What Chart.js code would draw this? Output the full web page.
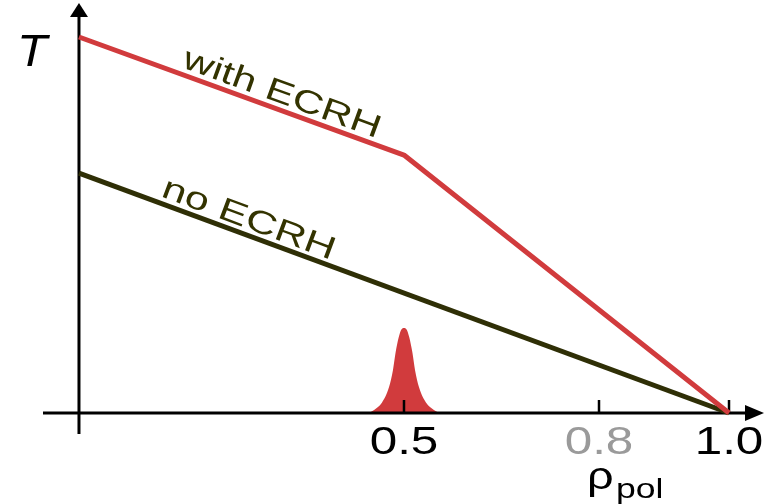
<!DOCTYPE html>
<html>
<head>
<meta charset="utf-8">
<script src="https://cdn.jsdelivr.net/npm/chart.js@4/dist/chart.umd.min.js"></script>
<style>
  html, body { margin: 0; padding: 0; background: #fff; }
  #wrap { width: 771px; height: 504px; position: relative; }
</style>
</head>
<body>
<div id="wrap"><canvas id="profileChart"></canvas></div>
<script>
// --- DATA (rho_pol, T in arbitrary units) ---
const withEcrhX = [0, 0.5, 1.0];
const withEcrhT = [1.0, 0.686, 0];

const noEcrhX = [0, 1.0];
const noEcrhT = [0.638, 0];

// ECRH deposition peak around rho = 0.5
const peakX = [0.446, 0.454, 0.466, 0.477, 0.483, 0.487, 0.492, 0.496, 0.5, 0.504, 0.508, 0.513, 0.517, 0.523, 0.534, 0.546, 0.554];
const peakY = [0, 0.008, 0.027, 0.069, 0.114, 0.16, 0.202, 0.222, 0.226, 0.222, 0.202, 0.16, 0.114, 0.069, 0.027, 0.008, 0];

const tickValues = [0.5, 0.8, 1.0];
const tickLabels = ["0.5", "0.8", "1.0"];
const tickColors = ["#000000", "#9a9a9a", "#000000"];

const RED = "#d13b3d";
const DARK = "#2f2f06";
const TEXT = "#333300";

function toPoints(xs, ys) {
  return xs.map((x, i) => ({ x: x, y: ys[i] }));
}

// stretched text, like the original figure
function stretchedText(ctx, txt, x, y, sx, angle) {
  ctx.save();
  ctx.translate(x, y);
  if (angle) ctx.rotate(angle);
  ctx.scale(sx, 1);
  ctx.fillText(txt, 0, 0);
  ctx.restore();
}

// axes with arrows, ticks and labels, drawn right after the peak
const axesPlugin = {
  id: "axesPlugin",
  afterDatasetDraw(chart, args) {
    if (args.index !== 2) return;
    const ctx = chart.ctx;
    const xs = chart.scales.x, ys = chart.scales.y;
    const x0 = xs.getPixelForValue(0);
    const y0 = ys.getPixelForValue(0);

    ctx.save();
    ctx.strokeStyle = "#000";
    ctx.fillStyle = "#000";
    ctx.lineWidth = 3;

    // x axis
    ctx.beginPath();
    ctx.moveTo(43, y0);
    ctx.lineTo(748, y0);
    ctx.stroke();
    ctx.beginPath();
    ctx.moveTo(764, y0);
    ctx.lineTo(745, y0 - 8);
    ctx.lineTo(745, y0 + 8);
    ctx.closePath();
    ctx.fill();

    // y axis
    ctx.beginPath();
    ctx.moveTo(x0, 434);
    ctx.lineTo(x0, 14);
    ctx.stroke();
    ctx.beginPath();
    ctx.moveTo(x0, 3);
    ctx.lineTo(x0 - 9, 17);
    ctx.lineTo(x0 + 9, 17);
    ctx.closePath();
    ctx.fill();

    // ticks
    ctx.lineWidth = 2.5;
    tickValues.forEach((v) => {
      const px = xs.getPixelForValue(v);
      ctx.beginPath();
      ctx.moveTo(px, y0);
      ctx.lineTo(px, y0 - 13);
      ctx.stroke();
    });

    // tick labels
    ctx.font = "38px 'Liberation Sans', Arial, sans-serif";
    ctx.textAlign = "center";
    ctx.textBaseline = "alphabetic";
    tickValues.forEach((v, i) => {
      ctx.fillStyle = tickColors[i];
      stretchedText(ctx, tickLabels[i], xs.getPixelForValue(v), 454, 1.3, 0);
    });
    ctx.restore();
  },
  afterDraw(chart) {
    const ctx = chart.ctx;
    ctx.save();
    ctx.fillStyle = "#000";
    ctx.textBaseline = "alphabetic";

    // axis titles
    ctx.textAlign = "center";
    ctx.font = "italic 44px 'Liberation Sans', Arial, sans-serif";
    stretchedText(ctx, "T", 32, 66, 1.12, 0);

    ctx.textAlign = "left";
    ctx.font = "39px 'Liberation Sans', Arial, sans-serif";
    stretchedText(ctx, "ρ", 587, 489, 1.2, 0);
    ctx.font = "28px 'Liberation Sans', Arial, sans-serif";
    stretchedText(ctx, "pol", 616, 498, 1.27, 0);

    // curve labels
    ctx.fillStyle = TEXT;
    ctx.font = "32px 'Liberation Sans', Arial, sans-serif";
    stretchedText(ctx, "with ECRH", 181, 67, 1.33, 20 * Math.PI / 180);
    stretchedText(ctx, "no ECRH", 160, 196, 1.35, 20.5 * Math.PI / 180);
    ctx.restore();
  }
};

function initProfileChart() {
  const ctx = document.getElementById("profileChart");
  if (!ctx) return;

  new Chart(ctx, {
    type: "line",
    data: {
      datasets: [
        {
          label: "with ECRH",
          data: toPoints(withEcrhX, withEcrhT),
          borderColor: RED,
          borderWidth: 5,
          borderJoinStyle: "round",
          pointRadius: 0,
          fill: false,
        },
        {
          label: "no ECRH",
          data: toPoints(noEcrhX, noEcrhT),
          borderColor: DARK,
          borderWidth: 5,
          pointRadius: 0,
          fill: false,
        },
        {
          label: "ECRH deposition",
          data: toPoints(peakX, peakY),
          borderColor: RED,
          borderWidth: 0,
          backgroundColor: RED,
          pointRadius: 0,
          cubicInterpolationMode: "monotone",
          fill: "origin",
        },
      ],
    },
    options: {
      responsive: true,
      maintainAspectRatio: false,
      animation: false,
      layout: { padding: 0 },
      plugins: {
        legend: { display: false },
        tooltip: { enabled: false },
      },
      scales: {
        x: { type: "linear", display: false, min: -0.1215, max: 1.0646 },
        y: { type: "linear", display: false, min: -0.242, max: 1.0984 },
      },
    },
    plugins: [axesPlugin],
  });
}

document.addEventListener("DOMContentLoaded", initProfileChart);
</script>
</body>
</html>
